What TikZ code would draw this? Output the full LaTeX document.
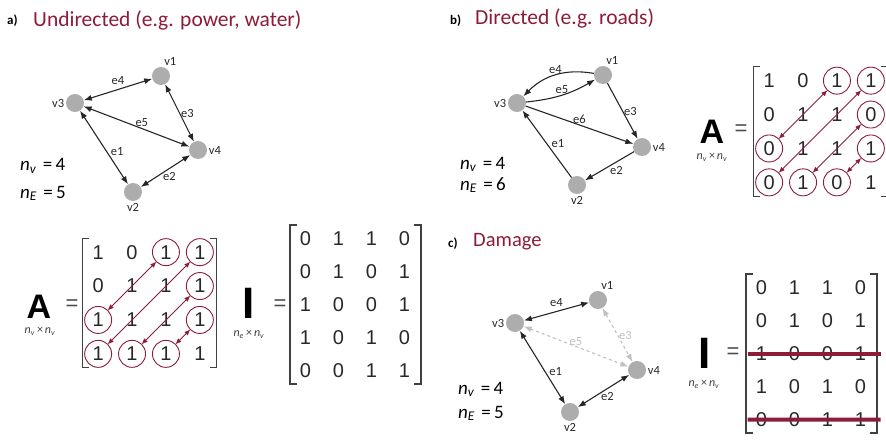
\documentclass[tikz,border=0pt]{standalone}
\usepackage{fontspec}
\setmainfont{Carlito}
\newfontfamily\matfont{Liberation Sans}
\usetikzlibrary{arrows.meta,matrix,positioning}

\definecolor{maroon}{RGB}{140,28,56}
\definecolor{ink}{RGB}{40,40,40}
\definecolor{ghost}{RGB}{192,192,192}

\newcommand{\countlbl}[2]{\textit{n}\textsubscript{\textit{#1}}\,\,=\,#2}
\newcommand{\dimlbl}[2]{\textit{n}\textsubscript{\textit{#1}}\,×\,\textit{n}\textsubscript{\textit{#2}}}
\newcommand{\matbrackets}[1]{%
    \draw[brk] ([xshift=5pt]#1.north west) -- ([xshift=-2pt]#1.north west)
        -- ([xshift=-2pt]#1.south west) -- ([xshift=5pt]#1.south west);
    \draw[brk] ([xshift=-4pt]#1.north east) -- ([xshift=3pt]#1.north east)
        -- ([xshift=3pt]#1.south east) -- ([xshift=-4pt]#1.south east);}

\begin{document}
\begin{tikzpicture}[
        x=1pt, y=-1pt,
        >={Latex[length=8pt,width=6pt]},
        vert/.style={
            circle,
            fill=black!32,
            minimum size=18pt,
            inner sep=0pt
        },
        vlbl/.style={
            font=\fontsize{12.5}{14}\selectfont,
            text=ink,
            inner sep=1.5pt
        },
        elbl/.style={
            font=\fontsize{12.5}{14}\selectfont,
            text=ink,
            inner sep=1pt
        },
        link/.style={<->, line width=1.1pt, draw=black!85},
        oneway/.style={->, line width=1.1pt, draw=black!85},
        lost/.style={<->, dashed, line width=1.1pt, draw=ghost},
        title/.style={
            font=\fontsize{21.5}{24}\selectfont,
            text=maroon,
            anchor=base west,
            inner sep=0pt
        },
        tag/.style={font=\bfseries\fontsize{13}{15}\selectfont, anchor=base west, inner sep=0pt},
        count/.style={font=\fontsize{19}{22}\selectfont, anchor=base west, inner sep=0pt},
        cell/.style={
            circle,
            minimum size=27pt,
            inner sep=0pt,
            font=\matfont\fontsize{20}{24}\selectfont,
            text=ink
        },
        mat/.style={
            matrix of nodes,
            inner sep=0pt,
            outer sep=0pt,
            row sep=6pt,
            column sep=6pt,
            nodes={cell}
        },
        hit/.style={draw=maroon, line width=0.9pt},
        swap/.style={<->, draw=maroon, line width=0.9pt, >={Latex[length=6pt,width=5pt]}},
        brk/.style={draw=black!75, line width=1.1pt},
        strike/.style={draw=maroon, line width=4pt},
        big/.style={font=\matfont\bfseries\fontsize{34}{36}\selectfont, anchor=base, inner sep=0pt},
        bar/.style={font=\matfont\bfseries\fontsize{44}{48}\selectfont, anchor=base, inner sep=0pt},
        dims/.style={font=\fontsize{12}{14}\selectfont, text=black!75, inner sep=0pt},
        eq/.style={font=\matfont\fontsize{22}{24}\selectfont, text=black!70, inner sep=0pt}
    ]
    \useasboundingbox (0,0) rectangle (886,441);

    % a) undirected
    \node[tag] (atag) at (7,25) {a)};
    \node[title] (atitle) at (33,27) {Undirected (e.g. power, water)};

    \node[vert, label={[vlbl]80:v1}] (a1) at (161,76) {};
    \node[vert, label={[vlbl]left:v3}] (a3) at (75,103) {};
    \node[vert, label={[vlbl]right:v4}] (a4) at (198,150) {};
    \node[vert, label={[vlbl]below:v2}] (a2) at (133,192) {};

    \draw[link] (a3) -- node[elbl, above=3pt] {e4} (a1);
    \draw[link] (a1) -- node[elbl, right] {e3} (a4);
    \draw[link] (a3) -- node[elbl, above, pos=0.55] {e5} (a4);
    \draw[link] (a3) -- node[elbl, right=3pt, pos=0.55] {e1} (a2);
    \draw[link] (a2) -- node[elbl, below, xshift=4pt] {e2} (a4);

    \node[count] (anv) at (20,171) {\countlbl{v}{4}};
    \node[count] (ane) at (20,198) {\countlbl{E}{5}};

    \node[big] (aA) at (39,318) {A};
    \node[dims] (aAdim) at (40,331) {\dimlbl{v}{v}};
    \node[eq] (aAeq) at (72,305) {=};
    \matrix (Aa) at (149,303) [mat] {
        1 & 0 & |[hit]| 1 & |[hit]| 1 \\
        0 & 1 & 1 & |[hit]| 1 \\
        |[hit]| 1 & 1 & 1 & |[hit]| 1 \\
        |[hit]| 1 & |[hit]| 1 & |[hit]| 1 & 1 \\
    };
    \matbrackets{Aa}
    \draw[swap] (Aa-1-3) -- (Aa-3-1);
    \draw[swap] (Aa-1-4) -- (Aa-4-1);
    \draw[swap] (Aa-2-4) -- (Aa-4-2);
    \draw[swap] (Aa-3-4) -- (Aa-4-3);

    \node[bar] (aI) at (249,318) {I};
    \node[dims] (aIdim) at (249,334) {\dimlbl{e}{v}};
    \node[eq] (aIeq) at (280,305) {=};
    \matrix (Ia) at (355,304.5) [mat] {
        0 & 1 & 1 & 0 \\
        0 & 1 & 0 & 1 \\
        1 & 0 & 0 & 1 \\
        1 & 0 & 1 & 0 \\
        0 & 0 & 1 & 1 \\
    };
    \matbrackets{Ia}

    % b) directed
    \node[tag] (btag) at (450,25) {b)};
    \node[title] (btitle) at (475,25) {Directed (e.g. roads)};

    \node[vert, label={[vlbl]80:v1}] (b1) at (603,75) {};
    \node[vert, label={[vlbl]left:v3}] (b3) at (517,103) {};
    \node[vert, label={[vlbl]right:v4}] (b4) at (642,147) {};
    \node[vert, label={[vlbl]below:v2}] (b2) at (577,185) {};

    \draw[oneway] (b1) to[bend right=28] node[elbl, above] {e4} (b3);
    \draw[oneway] (b3) to[bend right=12] node[elbl, above] {e5} (b1);
    \draw[oneway] (b1) -- node[elbl, right] {e3} (b4);
    \draw[oneway] (b3) -- node[elbl, above] {e6} (b4);
    \draw[oneway] (b2) -- node[elbl, right=3pt] {e1} (b3);
    \draw[oneway] (b4) -- node[elbl, below right, inner sep=0pt] {e2} (b2);

    \node[count] (bnv) at (460,169) {\countlbl{v}{4}};
    \node[count] (bne) at (460,190) {\countlbl{E}{6}};

    \node[big] (bA) at (712,143) {A};
    \node[dims] (bAdim) at (712,157) {\dimlbl{v}{v}};
    \node[eq] (bAeq) at (741,130) {=};
    \matrix (Ab) at (820,131.5) [mat] {
        1 & 0 & |[hit]| 1 & |[hit]| 1 \\
        0 & 1 & 1 & |[hit]| 0 \\
        |[hit]| 0 & 1 & 1 & |[hit]| 1 \\
        |[hit]| 0 & |[hit]| 1 & |[hit]| 0 & 1 \\
    };
    \matbrackets{Ab}
    \draw[swap] (Ab-1-3) -- (Ab-3-1);
    \draw[swap] (Ab-1-4) -- (Ab-4-1);
    \draw[swap] (Ab-2-4) -- (Ab-4-2);
    \draw[swap] (Ab-3-4) -- (Ab-4-3);

    % c) damage
    \node[tag] (ctag) at (448,247) {c)};
    \node[title, font=\fontsize{20.5}{24}\selectfont] (ctitle) at (473,246) {Damage};

    \node[vert, label={[vlbl]80:v1}] (c1) at (598,300) {};
    \node[vert, label={[vlbl]left:v3}] (c3) at (515,323) {};
    \node[vert, label={[vlbl]right:v4}] (c4) at (637,370) {};
    \node[vert, label={[vlbl]below:v2}] (c2) at (570,412) {};

    \draw[link] (c3) -- node[elbl, above=3pt] {e4} (c1);
    \draw[lost] (c1) -- node[elbl, right, text=ghost] {e3} (c4);
    \draw[lost] (c3) -- node[elbl, above, inner sep=0pt, text=ghost] {e5} (c4);
    \draw[link] (c3) -- node[elbl, right=3pt, pos=0.55] {e1} (c2);
    \draw[link] (c2) -- node[elbl, below, xshift=4pt] {e2} (c4);

    \node[count] (cnv) at (458,394) {\countlbl{v}{4}};
    \node[count] (cne) at (458,418) {\countlbl{E}{5}};

    \node[bar] (cI) at (705,368) {I};
    \node[dims] (cIdim) at (704,384) {\dimlbl{e}{v}};
    \node[eq] (cIeq) at (733,353) {=};
    \matrix (Ic) at (811,353.5) [mat] {
        0 & 1 & 1 & 0 \\
        0 & 1 & 0 & 1 \\
        1 & 0 & 0 & 1 \\
        1 & 0 & 1 & 0 \\
        0 & 0 & 1 & 1 \\
    };
    \matbrackets{Ic}
    \draw[strike] ([xshift=-14pt]Ic-3-1.center) -- ([xshift=20pt]Ic-3-4.center);
    \draw[strike] ([xshift=-14pt]Ic-5-1.center) -- ([xshift=20pt]Ic-5-4.center);

\end{tikzpicture}
\end{document}
